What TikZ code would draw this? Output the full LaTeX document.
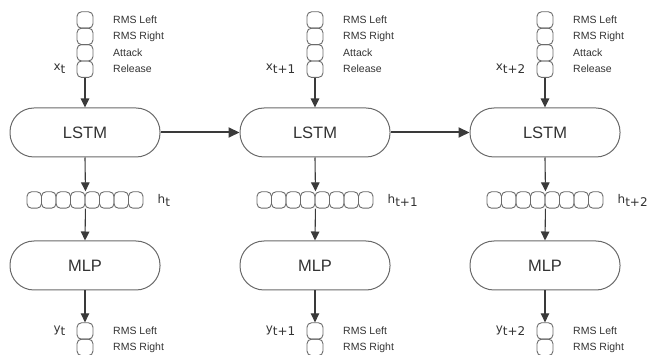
\documentclass[tikz,border=0pt]{standalone}
\usepackage{fontspec}
\setmainfont{Liberation Sans}
\newfontfamily\labfont{DejaVu Sans}
\usetikzlibrary{arrows.meta}
\definecolor{edge}{HTML}{3A3A3A}
\definecolor{boxline}{HTML}{6A6A6A}
\definecolor{txt}{HTML}{333333}
\tikzset{
 cell/.style={draw=boxline, line width=0.9pt, rounded corners=4.5pt, minimum width=16pt, minimum height=16.4pt, inner sep=0pt},
 hcell/.style={cell, minimum width=14.5pt},
 block/.style={draw=boxline, line width=1pt, rounded corners=24pt, minimum width=150pt, minimum height=49pt, font=\fontsize{16.5}{18}\selectfont, text=txt},
 feat/.style={anchor=west, inner sep=0pt, font=\fontsize{10.5}{12}\selectfont, text=txt},
 var/.style={inner sep=0pt, font=\labfont\fontsize{12}{13}\selectfont, text=txt},
 flow/.style={draw=edge, line width=1.1pt, -{Triangle[length=9pt,width=8.5pt]}},
 rec/.style={draw=edge, line width=2pt, -{Triangle[length=11pt,width=10pt]}},
}
\begin{document}
\begin{tikzpicture}[x=1pt,y=-1pt]
\useasboundingbox (0,0) rectangle (648,355);
\foreach \c/\sub in {1/t,2/t+1,3/t+2}{
  \pgfmathsetmacro\cx{85+230*(\c-1)}
  % input stack
  \foreach \i/\lab in {1/RMS Left,2/RMS Right,3/Attack,4/Release}{
    \node[cell] (in\c-\i) at (\cx, {20+16.4*(\i-1)}) {};
    \node[feat] (inl\c-\i) at (\cx+28, {20+16.4*(\i-1)}) {\lab};
  }
  \node[var, anchor=east] (xl\c) at ([xshift=-11pt]in\c-4.west) {x\raisebox{-3pt}{\sub}};
  % LSTM
  \node[block] (lstm\c) at (\cx,132.5) {LSTM};
  \draw[flow] (in\c-4.south) -- (lstm\c.north);
  % hidden row
  \foreach \k in {1,...,8}{
    \node[hcell] (h\c-\k) at ({\cx+14.5*(\k-4.5)},200) {};
  }
  \node[var, anchor=west] (hl\c) at ([xshift=14pt]h\c-8.east) {h\raisebox{-3pt}{\sub}};
  \draw[flow] (lstm\c.south) -- (h\c-4.north east);
  % MLP
  \node[block] (mlp\c) at (\cx,265.5) {MLP};
  \draw[flow] (h\c-4.south east) -- (mlp\c.north);
  % output stack
  \node[cell] (out\c-1) at (\cx,331) {};
  \node[cell] (out\c-2) at (\cx,347.4) {};
  \node[feat] (outl\c-1) at (\cx+28,331) {RMS Left};
  \node[feat] (outl\c-2) at (\cx+28,347.4) {RMS Right};
  \node[var, anchor=east] (yl\c) at ([xshift=-11pt]out\c-1.west) {y\raisebox{-3pt}{\sub}};
  \draw[flow] (mlp\c.south) -- (out\c-1.north);
}
\draw[rec] (lstm1.east) -- (lstm2.west);
\draw[rec] (lstm2.east) -- (lstm3.west);
\end{tikzpicture}
\end{document}
